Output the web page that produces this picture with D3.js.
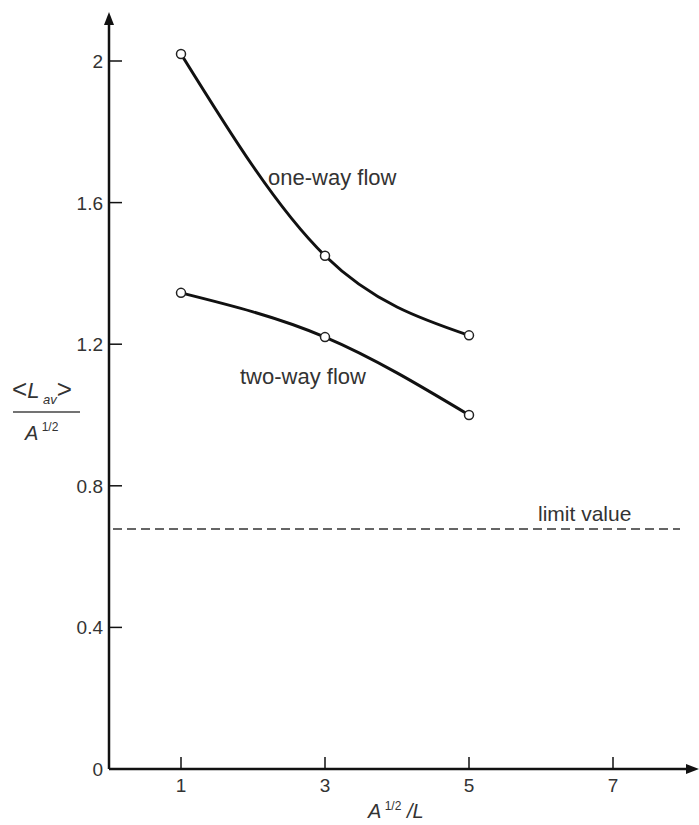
<!DOCTYPE html>
<html>
<head>
<meta charset="utf-8">
<script src="https://cdn.jsdelivr.net/npm/d3@7"></script>
<style>
  body { margin: 0; background: #fff; }
  svg text { font-family: "Liberation Sans", Arial, sans-serif; fill: #333; }
</style>
</head>
<body>
<div id="chart"></div>
<script>
// Average path length vs A^1/2/L — scanned textbook figure
const xTicks = [1, 3, 5, 7];
const yTicks = [0, 0.4, 0.8, 1.2, 1.6, 2];
const yTickLabels = ["0", "0.4", "0.8", "1.2", "1.6", "2"];

const xs = [1, 3, 5];
const oneWay = [2.02, 1.45, 1.225];
const twoWay = [1.345, 1.22, 1.0];
const limitValue = 0.678;

const width = 699, height = 825;
const svg = d3.select("#chart").append("svg")
  .attr("width", width).attr("height", height);

const x = d3.scaleLinear().domain([0, 7]).range([109, 613]);
const y = d3.scaleLinear().domain([0, 2]).range([769, 61]);

// axes lines with arrow heads
svg.append("line")
  .attr("x1", x(0)).attr("x2", 690).attr("y1", y(0)).attr("y2", y(0))
  .attr("stroke", "#111").attr("stroke-width", 2.5);
svg.append("path")
  .attr("d", `M699,${y(0)} L686,${y(0) - 5} L686,${y(0) + 5} Z`)
  .attr("fill", "#111");
svg.append("line")
  .attr("x1", x(0)).attr("x2", x(0)).attr("y1", y(0)).attr("y2", 24)
  .attr("stroke", "#111").attr("stroke-width", 2.5);
svg.append("path")
  .attr("d", `M${x(0)},12 L${x(0) - 5},25 L${x(0) + 5},25 Z`)
  .attr("fill", "#111");

// y ticks (inside, to the right)
const yAxis = svg.append("g");
yTicks.forEach((t, i) => {
  if (t > 0) {
    yAxis.append("line")
      .attr("x1", x(0)).attr("x2", x(0) + 13)
      .attr("y1", y(t)).attr("y2", y(t))
      .attr("stroke", "#111").attr("stroke-width", 1.5);
  }
  yAxis.append("text")
    .attr("x", x(0) - 6).attr("y", y(t) + 7)
    .attr("text-anchor", "end").attr("font-size", 19)
    .text(yTickLabels[i]);
});

// x ticks (inside, upward)
const xAxis = svg.append("g");
xTicks.forEach(t => {
  xAxis.append("line")
    .attr("x1", x(t)).attr("x2", x(t))
    .attr("y1", y(0)).attr("y2", y(0) - 12)
    .attr("stroke", "#111").attr("stroke-width", 1.5);
  xAxis.append("text")
    .attr("x", x(t)).attr("y", y(0) + 23)
    .attr("text-anchor", "middle").attr("font-size", 19)
    .text(t);
});

// axis titles
const xt = svg.append("text")
  .attr("x", 368).attr("y", 818).attr("font-size", 20).attr("font-style", "italic");
xt.append("tspan").text("A");
xt.append("tspan").attr("dy", -8).attr("font-size", 12).attr("font-style", "normal").text(" 1/2");
xt.append("tspan").attr("dy", 8).text(" /L");

const yt = svg.append("text").attr("x", 12).attr("y", 398).attr("font-size", 22);
yt.append("tspan").attr("font-size", 26).text("<");
yt.append("tspan").attr("font-style", "italic").text("L");
yt.append("tspan").attr("dy", 6).attr("font-size", 13).attr("font-style", "italic").text(" av");
yt.append("tspan").attr("dy", -6).attr("font-size", 26).text(">");
svg.append("line")
  .attr("x1", 13).attr("x2", 80).attr("y1", 412).attr("y2", 412)
  .attr("stroke", "#444").attr("stroke-width", 1.5);
const yb = svg.append("text").attr("x", 25).attr("y", 440).attr("font-size", 20).attr("font-style", "italic");
yb.append("tspan").text("A");
yb.append("tspan").attr("dy", -9).attr("font-size", 12).attr("font-style", "normal").text(" 1/2");

// curves
const line = d3.line()
  .x(d => x(d[0])).y(d => y(d[1]))
  .curve(d3.curveNatural);

[oneWay, twoWay].forEach(series => {
  const pts = xs.map((v, i) => [v, series[i]]);
  svg.append("path")
    .attr("d", line(pts))
    .attr("fill", "none").attr("stroke", "#111").attr("stroke-width", 3);
  svg.selectAll(null).data(pts).enter().append("circle")
    .attr("cx", d => x(d[0])).attr("cy", d => y(d[1]))
    .attr("r", 4.5)
    .attr("fill", "#fff").attr("stroke", "#222").attr("stroke-width", 1.5);
});

// limit value dashed line
svg.append("line")
  .attr("x1", x(0) + 4).attr("x2", 680)
  .attr("y1", y(limitValue)).attr("y2", y(limitValue))
  .attr("stroke", "#333").attr("stroke-width", 1.5)
  .attr("stroke-dasharray", "9,5");

svg.append("text").attr("x", 538).attr("y", 521).attr("font-size", 21).text("limit value");
svg.append("text").attr("x", 268).attr("y", 185).attr("font-size", 22).text("one-way flow");
svg.append("text").attr("x", 240).attr("y", 384).attr("font-size", 22).text("two-way flow");
</script>
</body>
</html>
